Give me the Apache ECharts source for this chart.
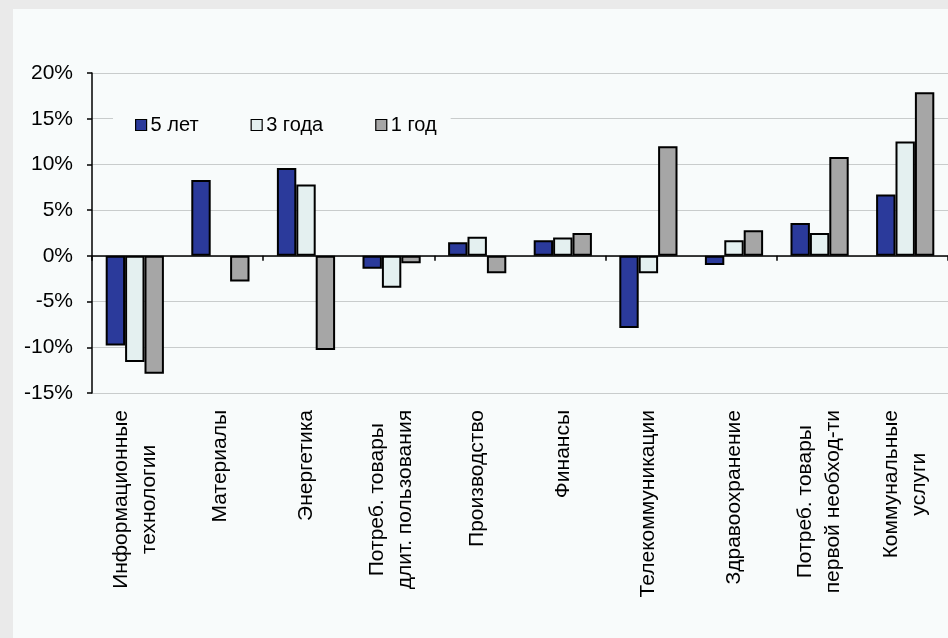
<!DOCTYPE html>
<html>
<head>
<meta charset="utf-8">
<script src="https://cdn.jsdelivr.net/npm/echarts@6/dist/echarts.min.js"></script>
<style>
  html, body { margin: 0; padding: 0; background: #eaeaea; }
  #panel { position: absolute; left: 13px; top: 9px; width: 935px; height: 629px; background: #f8fbfb; }
  #chart { position: absolute; left: 0; top: 0; width: 948px; height: 638px; }
</style>
</head>
<body>
<div id="panel"></div>
<div id="chart"></div>
<script>
// Sector returns, %
const categories = [
  'Информационные\nтехнологии',
  'Материалы',
  'Энергетика',
  'Потреб. товары\nдлит. пользования',
  'Производство',
  'Финансы',
  'Телекоммуникации',
  'Здравоохранение',
  'Потреб. товары\nпервой необход-ти',
  'Коммунальные\nуслуги'
];
const seriesNames = ['5 лет', '3 года', '1 год'];
const fiveYears  = [-9.8, 8.3, 9.6, -1.4, 1.5, 1.7, -7.9, -1.0, 3.6, 6.7];
const threeYears = [-11.6, null, 7.8, -3.5, 2.1, 2.0, -1.9, 1.7, 2.5, 12.5];
const oneYear    = [-12.9, -2.8, -10.3, -0.8, -1.9, 2.5, 12.0, 2.8, 10.8, 17.9];
const yMin = -15, yMax = 20, yStep = 5;

const colors = ['#2b3a9b', '#e4f0f0', '#a6a6a6'];
const values = [fiveYears, threeYears, oneYear];
const font = '"Liberation Sans", Arial, sans-serif';

const chart = echarts.init(document.getElementById('chart'), null, { renderer: 'canvas' });

chart.setOption({
  backgroundColor: 'transparent',
  animation: false,
  textStyle: { fontFamily: font, color: '#000' },
  grid: { left: 92, top: 73, right: -6, bottom: 245, containLabel: false },
  legend: {
    data: seriesNames,
    left: 113,
    top: 109,
    padding: [6, 14, 6, 22],
    backgroundColor: '#f8fbfb',
    icon: 'rect',
    itemWidth: 11,
    itemHeight: 11,
    itemGap: 52,
    textStyle: { fontFamily: font, fontSize: 20, color: '#000', padding: [0, 0, 0, -1] },
    itemStyle: { borderColor: '#000', borderWidth: 1.2 }
  },
  xAxis: [
    {
      // category labels along the bottom edge
      type: 'category',
      data: categories,
      position: 'bottom',
      axisLine: { show: false, onZero: false },
      axisTick: { show: false },
      splitLine: { show: false },
      axisLabel: {
        rotate: 90,
        margin: 17,
        interval: 0,
        fontFamily: font,
        fontSize: 21,
        lineHeight: 28,
        color: '#000',
        formatter: function (v) {
          return v.split('\n').map(function (s) { return '{c|' + s + '}'; }).join('\n');
        },
        rich: { c: { align: 'center', fontFamily: font, fontSize: 21, lineHeight: 28, color: '#000' } }
      }
    },
    {
      // zero line with category separators
      type: 'category',
      data: categories,
      position: 'top',
      axisLine: { show: true, onZero: true, lineStyle: { color: '#000', width: 1.5 } },
      axisTick: { show: true, inside: true, length: 5, lineStyle: { color: '#000', width: 1.5 } },
      axisLabel: { show: false },
      splitLine: { show: false }
    }
  ],
  yAxis: {
    type: 'value',
    min: yMin,
    max: yMax,
    interval: yStep,
    axisLine: { show: true, lineStyle: { color: '#000', width: 1.5 } },
    axisTick: { show: true, length: 5, lineStyle: { color: '#000', width: 1.5 } },
    splitLine: { show: true, lineStyle: { color: '#c9cccc', width: 1.2 } },
    axisLabel: {
      margin: 19,
      fontFamily: font,
      fontSize: 21,
      color: '#000',
      formatter: '{value}%'
    }
  },
  series: seriesNames.map(function (name, i) {
    return {
      name: name,
      type: 'bar',
      xAxisIndex: 0,
      data: values[i],
      barGap: '0%',
      barCategoryGap: '32%',
      itemStyle: { color: colors[i], borderColor: '#000', borderWidth: 2 }
    };
  })
});
</script>
</body>
</html>
